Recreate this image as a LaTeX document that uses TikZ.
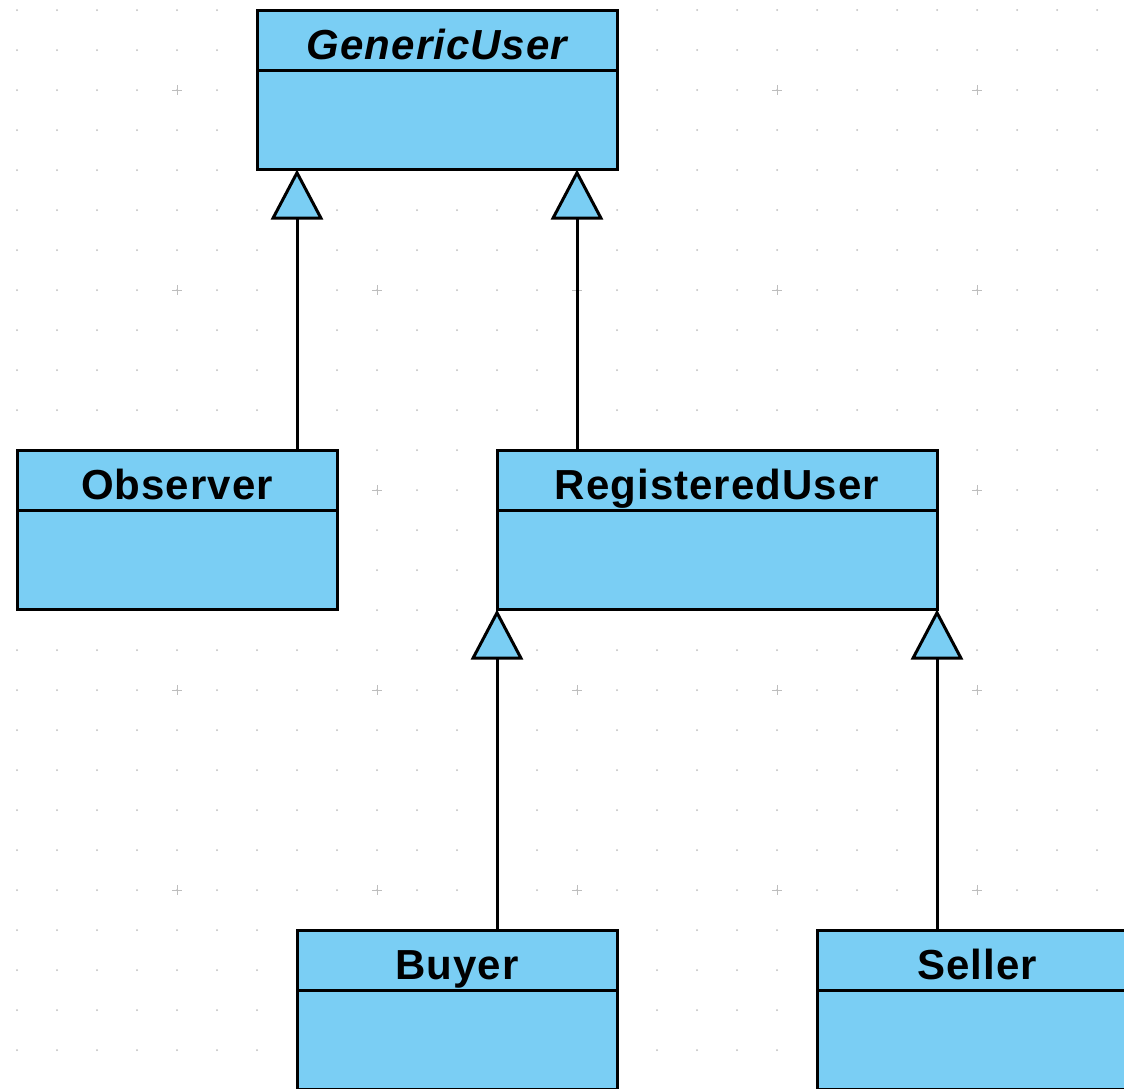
\documentclass[tikz,border=0pt]{standalone}
\usepackage{fontspec}
\setmainfont{Liberation Sans}[LetterSpace=2.5]
\usetikzlibrary{arrows.meta,shapes.multipart}
\definecolor{umlblue}{RGB}{122,206,244}
\definecolor{gridgray}{RGB}{190,190,190}
\newcommand{\umltitle}[1]{\rule[-10pt]{0pt}{57.5pt}#1}
\newcommand{\umlbody}{\rule{0pt}{96pt}}

\begin{document}
\begin{tikzpicture}[x=1pt, y=-1pt,
		umlclass/.style={draw, fill=umlblue, line width=3pt, rectangle split, rectangle split parts=2,
			inner xsep=0pt, inner ysep=0pt, outer sep=0pt, anchor=north west, align=center,
			font=\fontsize{42}{50}\selectfont\bfseries},
		inherit/.style={line width=3pt, -{Triangle[fill=umlblue, length=50pt, width=52pt]}}]
		
				\clip (0,0) rectangle (1124,1088);
				\fill [white] (0,0) rectangle (1124,1088);
				% grid
				\foreach \x in {17,57,...,1124}
					\foreach \y in {10,50,...,1088}
						\fill [gridgray] (\x,\y) circle (1);
				\foreach \x in {177,377,...,977}
					\foreach \y in {90,290,...,890}
						\draw [gridgray, line width=1pt] (\x-5,\y) -- (\x+5,\y) (\x,\y-5) -- (\x,\y+5);
				
				\node [umlclass, text width=360pt] (1) at (257,10) {\umltitle{\itshape GenericUser}\nodepart{two}\umlbody};
				\node [umlclass, text width=320pt] (2) at (17,450) {\umltitle{Observer}\nodepart{two}\umlbody};
				\node [umlclass, text width=440pt] (3) at (497,450) {\umltitle{RegisteredUser}\nodepart{two}\umlbody};
				\node [umlclass, text width=320pt] (4) at (297,930) {\umltitle{Buyer}\nodepart{two}\umlbody};
				\node [umlclass, text width=320pt] (5) at (817,930) {\umltitle{Seller}\nodepart{two}\umlbody};
			
				\draw [inherit] ([xshift=-40pt]2.north east) -- ([xshift=40pt]1.south west);
				\draw [inherit] ([xshift=80pt]3.north west) -- ([xshift=-40pt]1.south east);
				\draw [inherit] ([xshift=200pt]4.north west) -- (3.south west);
				\draw [inherit] ([xshift=120pt]5.north west) -- (3.south east);
		
			\end{tikzpicture}
\end{document}
